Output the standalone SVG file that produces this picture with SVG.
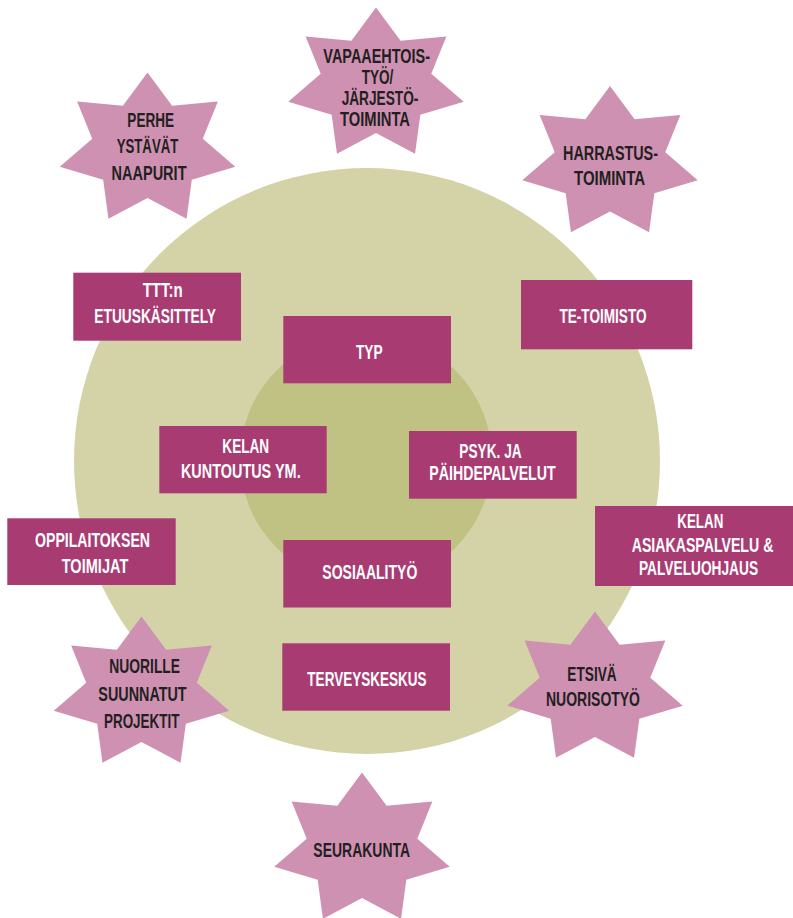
<svg xmlns="http://www.w3.org/2000/svg" xmlns:xlink="http://www.w3.org/1999/xlink" width="793" height="918" viewBox="0 0 793 918">
<style>
.box{fill:#a93b73}
.star{fill:#ce91b1}
.t{font-family:"Liberation Sans",Arial,sans-serif;font-weight:bold;font-size:19.5px;text-anchor:middle}
.w{fill:#ffffff}
.d{fill:#231f20}
</style>
<defs>
<path id="star7" d="M0,-77 L24.6,-43.7 L70.36,-48.01 L55.28,-10.79 L87.74,17.13 L44.33,30.24 L39.05,69.37 L0,48.5 L-39.05,69.37 L-44.33,30.24 L-87.74,17.13 L-55.28,-10.79 L-70.36,-48.01 L-24.6,-43.7 Z"/>
</defs>
<rect width="793" height="918" fill="#ffffff"/>
<g id="circles">
<circle cx="367" cy="461" r="293" fill="#d3d3a7"/>
<circle cx="366" cy="459" r="126" fill="#bfc283"/>
</g>
<g id="connectors"/>
<g id="star-vapaaehtoistyo">
<use xlink:href="#star7" class="star" transform="translate(376,84.5)"/>
<text class="t d" x="376.7" y="63.3" textLength="106.7" lengthAdjust="spacingAndGlyphs">VAPAAEHTOIS-</text>
<text class="t d" x="377.5" y="84" textLength="31.7" lengthAdjust="spacingAndGlyphs">TYÖ/</text>
<text class="t d" x="380" y="104.5" textLength="76.7" lengthAdjust="spacingAndGlyphs">JÄRJESTÖ-</text>
<text class="t d" x="375" y="126" textLength="70" lengthAdjust="spacingAndGlyphs">TOIMINTA</text>
</g>
<g id="star-perhe">
<use xlink:href="#star7" class="star" transform="translate(147.5,149.5)"/>
<text class="t d" x="150.7" y="126.7" textLength="46.7" lengthAdjust="spacingAndGlyphs">PERHE</text>
<text class="t d" x="147.5" y="153.3" textLength="61.7" lengthAdjust="spacingAndGlyphs">YSTÄVÄT</text>
<text class="t d" x="149" y="180" textLength="75" lengthAdjust="spacingAndGlyphs">NAAPURIT</text>
</g>
<g id="star-harrastus">
<use xlink:href="#star7" class="star" transform="translate(610,163)"/>
<text class="t d" x="610.5" y="160" textLength="95" lengthAdjust="spacingAndGlyphs">HARRASTUS-</text>
<text class="t d" x="609.5" y="185" textLength="71" lengthAdjust="spacingAndGlyphs">TOIMINTA</text>
</g>
<g id="star-nuorille">
<use xlink:href="#star7" class="star" transform="translate(141.5,693.5)"/>
<text class="t d" x="144.7" y="673.3" textLength="70.7" lengthAdjust="spacingAndGlyphs">NUORILLE</text>
<text class="t d" x="142.5" y="700.7" textLength="88.3" lengthAdjust="spacingAndGlyphs">SUUNNATUT</text>
<text class="t d" x="141.7" y="728.3" textLength="75.3" lengthAdjust="spacingAndGlyphs">PROJEKTIT</text>
</g>
<g id="star-etsiva">
<use xlink:href="#star7" class="star" transform="translate(595,688.5)"/>
<text class="t d" x="592" y="681" textLength="49.3" lengthAdjust="spacingAndGlyphs">ETSIVÄ</text>
<text class="t d" x="593" y="706" textLength="94" lengthAdjust="spacingAndGlyphs">NUORISOTYÖ</text>
</g>
<g id="star-seurakunta">
<use xlink:href="#star7" class="star" transform="translate(362,849.5)"/>
<text class="t d" x="361.7" y="856.7" textLength="96.7" lengthAdjust="spacingAndGlyphs">SEURAKUNTA</text>
</g>
<g id="box-ttt">
<rect class="box" x="73.3" y="272.7" width="167.7" height="68"/>
<text class="t w" x="162.7" y="296.7" textLength="40" lengthAdjust="spacingAndGlyphs">TTT:n</text>
<text class="t w" x="155.2" y="322.7" textLength="121.7" lengthAdjust="spacingAndGlyphs">ETUUSKÄSITTELY</text>
</g>
<g id="box-te">
<rect class="box" x="521" y="280" width="171.3" height="69.3"/>
<text class="t w" x="603" y="322.7" textLength="87" lengthAdjust="spacingAndGlyphs">TE-TOIMISTO</text>
</g>
<g id="box-typ">
<rect class="box" x="283.3" y="316" width="167.7" height="67.3"/>
<text class="t w" x="369.3" y="359.3" textLength="26.7" lengthAdjust="spacingAndGlyphs">TYP</text>
</g>
<g id="box-kelan-kuntoutus">
<rect class="box" x="159.3" y="426" width="167.4" height="67.3"/>
<text class="t w" x="245.7" y="453.3" textLength="46.7" lengthAdjust="spacingAndGlyphs">KELAN</text>
<text class="t w" x="240.8" y="478.3" textLength="119.7" lengthAdjust="spacingAndGlyphs">KUNTOUTUS YM.</text>
</g>
<g id="box-psyk">
<rect class="box" x="409" y="431" width="167.7" height="67.7"/>
<text class="t w" x="490.5" y="458.3" textLength="62.3" lengthAdjust="spacingAndGlyphs">PSYK. JA</text>
<text class="t w" x="492.5" y="480" textLength="126.3" lengthAdjust="spacingAndGlyphs">PÄIHDEPALVELUT</text>
</g>
<g id="box-oppilaitos">
<rect class="box" x="7.3" y="518.3" width="168.4" height="66.7"/>
<text class="t w" x="92.5" y="546.7" textLength="115" lengthAdjust="spacingAndGlyphs">OPPILAITOKSEN</text>
<text class="t w" x="95" y="572.7" textLength="66.7" lengthAdjust="spacingAndGlyphs">TOIMIJAT</text>
</g>
<g id="box-kelan-asiakaspalvelu">
<rect class="box" x="595" y="506" width="198" height="80"/>
<text class="t w" transform="translate(700.3 528.3) scale(0.75 1)" x="0" y="0" textLength="61.3" lengthAdjust="spacingAndGlyphs">KELAN</text>
<text class="t w" transform="translate(702.5 551.7) scale(0.75 1)" x="0" y="0" textLength="188.9" lengthAdjust="spacingAndGlyphs">ASIAKASPALVELU &amp;</text>
<text class="t w" transform="translate(698.5 575) scale(0.75 1)" x="0" y="0" textLength="158.7" lengthAdjust="spacingAndGlyphs">PALVELUOHJAUS</text>
</g>
<g id="box-sosiaalityo">
<rect class="box" x="283.3" y="540" width="167.7" height="67.5"/>
<text class="t w" x="369.8" y="579.3" textLength="95" lengthAdjust="spacingAndGlyphs">SOSIAALITYÖ</text>
</g>
<g id="box-terveyskeskus">
<rect class="box" x="282.3" y="643.3" width="167.7" height="67.4"/>
<text class="t w" x="367" y="686" textLength="119.3" lengthAdjust="spacingAndGlyphs">TERVEYSKESKUS</text>
</g>
</svg>
